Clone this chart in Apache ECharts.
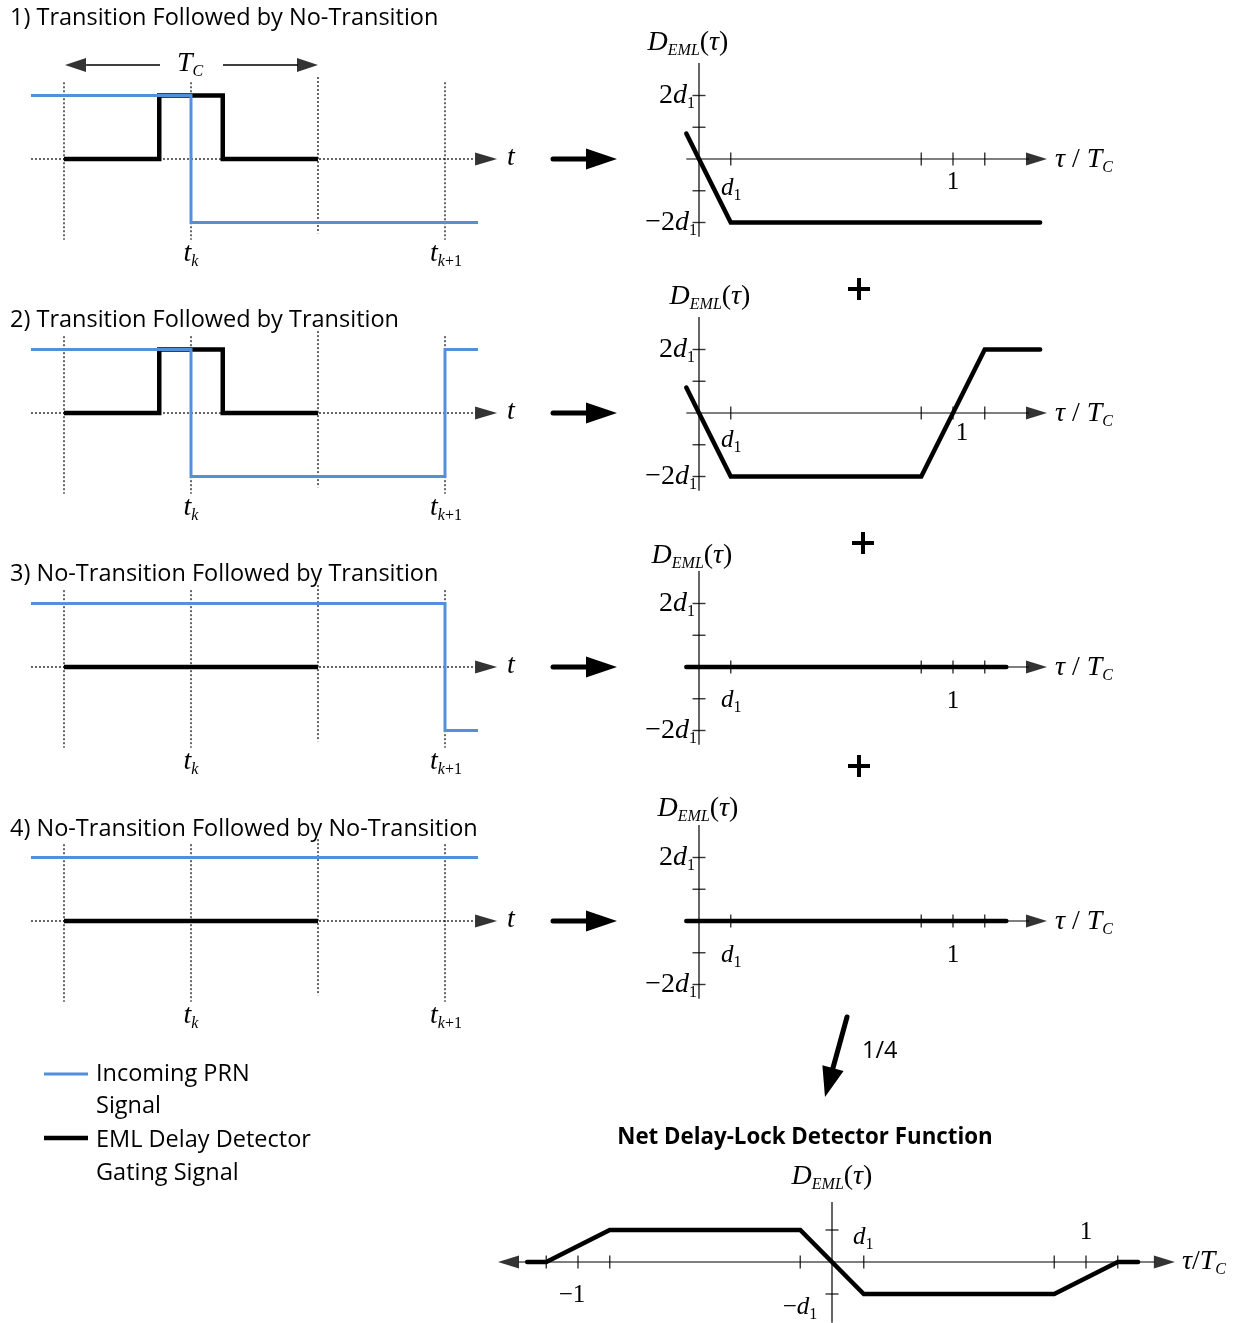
<!DOCTYPE html>
<html>
<head>
<meta charset="utf-8">
<script src="https://cdn.jsdelivr.net/npm/echarts@6/dist/echarts.min.js"></script>
<style>
    html, body { margin: 0; background: #fff; }
    #main { width: 1245px; height: 1323px; }
</style>
</head>
<body>
<div id="main"></div>
<script>
// 左侧时序图：横轴单位 Tc，t_k = 0，电平 ±1
const gateLines = [-0.5, 0, 0.5, 1]
const gateTop = [1.21, 1.21, 1.29, 1.21]
const gateBot = [-1.27, -1.27, -1.17, -1.27]
const baseT = [-0.63, 1.12]

const prn1T = [-0.63, 0, 0, 1.13]
const prn1V = [1, 1, -1, -1]
const prn2T = [-0.63, 0, 0, 1, 1, 1.13]
const prn2V = [1, 1, -1, -1, 1, 1]
const prn3T = [-0.63, 1, 1, 1.13]
const prn3V = [1, 1, -1, -1]
const prn4T = [-0.63, 1.13]
const prn4V = [1, 1]

const pulseT = [-0.5, -0.125, -0.125, 0.125, 0.125, 0.5]
const pulseV = [0, 0, 1, 1, 0, 0]
const flatT = [-0.5, 0.5]
const flatV = [0, 0]

// 右侧鉴别器输出：横轴 τ/Tc，纵轴单位 d1
const eml1Tau = [-0.05, 0, 0.125, 1.343]
const eml1Val = [0.8, 0, -2, -2]
const eml2Tau = [-0.05, 0, 0.125, 0.875, 1.125, 1.343]
const eml2Val = [0.8, 0, -2, -2, 2, 2]
const eml0Tau = [-0.05, 1.21]
const eml0Val = [0, 0]
const tauTicks = [0.125, 0.875, 1, 1.125]
const valTicks = [2, 1, -1, -2]

// 合成鉴别函数 (1/4)
const netTau = [-1.2, -1.125, -0.875, -0.125, 0.125, 0.875, 1.125, 1.205]
const netVal = [0, 0, 1, 1, -1, -1, 0, 0]
const netTauTicks = [-1.125, -1, -0.875, -0.125, 0.125, 0.875, 1, 1.125]
const netValTicks = [1, -1]

const titles = [
    '1) Transition Followed by No-Transition',
    '2) Transition Followed by Transition',
    '3) No-Transition Followed by Transition',
    '4) No-Transition Followed by No-Transition'
]

// 布局
const TC = 254
const rowY = [159, 413, 667, 921]
const titleY = [18, 320, 574, 829]
const LX0 = 191, RX0 = 699, NX0 = 832, NY0 = 1262
const LUY = 63.5, RUY = 31.75, NUY = 32
const BLUE = '#5390d9'
const SANS = 'Open Sans'
const SERIF = 'Liberation Serif'

const prnT = [prn1T, prn2T, prn3T, prn4T]
const prnV = [prn1V, prn2V, prn3V, prn4V]
const gT = [pulseT, pulseT, flatT, flatT]
const gV = [pulseV, pulseV, flatV, flatV]
const emlTau = [eml1Tau, eml2Tau, eml0Tau, eml0Tau]
const emlVal = [eml1Val, eml2Val, eml0Val, eml0Val]

const grid = [], xAxis = [], yAxis = [], series = [], graphic = []

function addGrid(x0, y0, xMin, xMax, yMin, yMax, uy) {
    grid.push({
        left: x0 + xMin * TC, top: y0 - yMax * uy,
        width: (xMax - xMin) * TC, height: (yMax - yMin) * uy,
        outerBoundsMode: 'none', containLabel: false
    })
    const i = grid.length - 1
    xAxis.push({ type: 'value', gridIndex: i, min: xMin, max: xMax, show: false })
    yAxis.push({ type: 'value', gridIndex: i, min: yMin, max: yMax, show: false })
    return { i, uy }
}

function addLine(g, xs, ys, color, width, dash, cap) {
    series.push({
        type: 'line', xAxisIndex: g.i, yAxisIndex: g.i,
        data: xs.map((x, k) => [x, ys[k]]),
        symbol: 'none', clip: false, silent: true,
        lineStyle: { color, width, type: dash || 'solid', cap: cap || 'butt', join: 'miter' }
    })
}

function addTicks(g, xs, ys, size) {
    series.push({
        type: 'scatter', xAxisIndex: g.i, yAxisIndex: g.i,
        data: xs.map((x, k) => [x, ys[k]]),
        symbol: 'rect', symbolSize: size, clip: false, silent: true,
        itemStyle: { color: '#000' }
    })
}

// 箭头：tip 为箭尖数据坐标，dir 为方向（度）
function addHead(g, tx, ty, dir, len, wid) {
    const r = dir * Math.PI / 180
    const cx = tx - Math.cos(r) * len / 2 / TC
    const cy = ty - Math.sin(r) * len / 2 / g.uy
    series.push({
        type: 'scatter', xAxisIndex: g.i, yAxisIndex: g.i,
        data: [[cx, cy]], symbol: 'triangle', symbolSize: [wid, len],
        symbolRotate: dir - 90, clip: false, silent: true,
        itemStyle: { color: '#000' }
    })
}

rowY.forEach((y0, r) => {
    // 左：时序
    const L = addGrid(LX0, y0, -0.75, 1.3, -2, 2, LUY)
    gateLines.forEach((t, k) => addLine(L, [t, t], [gateTop[k], gateBot[k]], '#000', 1.2, [2, 2]))
    addLine(L, baseT, [0, 0], '#000', 1.2, [2, 2])
    addHead(L, 1.205, 0, 0, 22, 13)
    addLine(L, gT[r], gV[r], '#000', 4.5)
    addLine(L, prnT[r], prnV[r], BLUE, 3)
    if (r === 0) {
        addLine(L, [-0.413, -0.122], [1.48, 1.48], '#000', 1.5)
        addLine(L, [0.126, 0.421], [1.48, 1.48], '#000', 1.5)
        addHead(L, -0.496, 1.48, 180, 21, 14)
        addHead(L, 0.5, 1.48, 0, 21, 14)
    }

    // 右：D_EML(τ)
    const R = addGrid(RX0, y0, -0.2, 1.55, -4, 4, RUY)
    addLine(R, [-0.05, 1.3], [0, 0], '#000', 1.2)
    addHead(R, 1.37, 0, 0, 21, 13)
    addLine(R, [0, 0], [3.02, -2.45], '#000', 1.2)
    addTicks(R, tauTicks, tauTicks.map(() => 0), [1.4, 13])
    addTicks(R, valTicks.map(() => 0), valTicks, [13, 1.4])
    addLine(R, emlTau[r], emlVal[r], '#000', 4.5, 'solid', 'round')
})

// 合成
const N = addGrid(NX0, NY0, -1.4, 1.4, -1.9, 2.2, NUY)
addLine(N, [-1.235, 1.27], [0, 0], '#000', 1.2)
addHead(N, -1.315, 0, 180, 21, 13)
addHead(N, 1.35, 0, 0, 21, 13)
addLine(N, [0, 0], [1.875, -1.9], '#000', 1.2)
addTicks(N, netTauTicks, netTauTicks.map(() => 0), [1.4, 13])
addTicks(N, netValTicks.map(() => 0), netValTicks, [13, 1.4])
addLine(N, netTau, netVal, '#000', 4.5, 'solid', 'round')

// ---- 文字与注释 ----
const richMath = {
    i: { fontFamily: SERIF, fontStyle: 'italic', fontSize: 28, lineHeight: 32, fill: '#000' },
    r: { fontFamily: SERIF, fontSize: 28, lineHeight: 32, fill: '#000' },
    li: { fontFamily: SERIF, fontStyle: 'italic', fontSize: 25, lineHeight: 32, fill: '#000' },
    lr: { fontFamily: SERIF, fontSize: 25, lineHeight: 32, fill: '#000' },
    s: { fontFamily: SERIF, fontStyle: 'italic', fontSize: 16, lineHeight: 15, verticalAlign: 'bottom', fill: '#000' },
    sr: { fontFamily: SERIF, fontSize: 16, lineHeight: 15, verticalAlign: 'bottom', fill: '#000' }
}

function mtext(x, y, text, align) {
    return {
        type: 'text', x, y, silent: true,
        style: { text, rich: richMath, align: align || 'center', verticalAlign: 'middle', fill: '#000' }
    }
}

function stext(x, y, text, size, weight, align) {
    return {
        type: 'text', x, y, silent: true,
        style: {
            text, fontFamily: SANS, fontSize: size, fontWeight: weight || 'normal',
            fill: '#000', align: align || 'left', verticalAlign: 'middle'
        }
    }
}

function bigArrow(x1, y1, x2, y2, lw, hl, hw) {
    const L = Math.hypot(x2 - x1, y2 - y1)
    const ux = (x2 - x1) / L, uy = (y2 - y1) / L
    const bx = x2 - ux * hl, by = y2 - uy * hl
    graphic.push({
        type: 'line', silent: true,
        shape: { x1, y1, x2: bx + ux * 2, y2: by + uy * 2 },
        style: { stroke: '#000', lineWidth: lw, lineCap: 'round' }
    })
    graphic.push({
        type: 'polygon', silent: true,
        shape: { points: [[x2, y2], [bx - uy * hw / 2, by + ux * hw / 2], [bx + uy * hw / 2, by - ux * hw / 2]] },
        style: { fill: '#000' }
    })
}

function plus(cx, cy) {
    graphic.push({ type: 'rect', silent: true, shape: { x: cx - 11, y: cy - 2, width: 22, height: 4 }, style: { fill: '#000' } })
    graphic.push({ type: 'rect', silent: true, shape: { x: cx - 2, y: cy - 11, width: 4, height: 22 }, style: { fill: '#000' } })
}

const dLabelX = [688, 710, 692, 698]
const dLabelY = [43, 297, 556, 809]
const oneX = [953, 962, 953, 953]
const oneDy = [23, 20, 34, 34]
const d1Dy = [29, 27, 33, 34]

rowY.forEach((y0, r) => {
    graphic.push(stext(10, titleY[r], titles[r], 23.5))
    // 左
    graphic.push(mtext(511, y0 - 1, '{i|t}'))
    graphic.push(mtext(LX0, y0 + 95, '{i|t}{s|k}'))
    graphic.push(mtext(LX0 + TC + 1, y0 + 95, '{i|t}{s|k}{sr|+1}'))
    // 箭头
    bigArrow(553, y0, 617, y0, 5, 31, 21)
    // 右
    graphic.push(mtext(dLabelX[r], dLabelY[r], '{i|D}{s|EML}{r|(}{i|τ}{r|)}'))
    graphic.push(mtext(695, y0 - 63, '{r|2}{i|d}{sr|1}', 'right'))
    graphic.push(mtext(697, y0 + 64, '{r|−2}{i|d}{sr|1}', 'right'))
    graphic.push(mtext(721, y0 + d1Dy[r], '{li|d}{sr|1}', 'left'))
    graphic.push(mtext(oneX[r], y0 + oneDy[r], '{lr|1}'))
    graphic.push(mtext(1055, y0 + 1, '{i|τ}{r| / }{i|T}{s|C}', 'left'))
})
graphic.push(mtext(190, 64, '{i|T}{s|C}'))

plus(859, 289)
plus(863, 543)
plus(859, 766)

bigArrow(847, 1017, 825, 1097, 5, 30, 22)
graphic.push(stext(862, 1051, '1/4', 23.5))
graphic.push(stext(805, 1138, 'Net Delay-Lock Detector Function', 22.3, 'bold', 'center'))

graphic.push(mtext(NX0, 1177, '{i|D}{s|EML}{r|(}{i|τ}{r|)}'))
graphic.push(mtext(853, 1237, '{li|d}{sr|1}', 'left'))
graphic.push(mtext(800, 1307, '{lr|−}{li|d}{sr|1}'))
graphic.push(mtext(572, 1295, '{lr|−1}'))
graphic.push(mtext(1086, 1232, '{lr|1}'))
graphic.push(mtext(1182, 1262, '{i|τ}{r|/}{i|T}{s|C}', 'left'))

// 图例
graphic.push({ type: 'line', silent: true, shape: { x1: 44, y1: 1074, x2: 88, y2: 1074 }, style: { stroke: BLUE, lineWidth: 3 } })
graphic.push({ type: 'line', silent: true, shape: { x1: 44, y1: 1138, x2: 88, y2: 1138 }, style: { stroke: '#000', lineWidth: 4.5 } })
graphic.push(stext(96, 1074, 'Incoming PRN', 23.5))
graphic.push(stext(96, 1106, 'Signal', 23.5))
graphic.push(stext(96, 1140, 'EML Delay Detector', 23.5))
graphic.push(stext(96, 1173, 'Gating Signal', 23.5))

const chart = echarts.init(document.getElementById('main'))
chart.setOption({
    animation: false,
    backgroundColor: '#fff',
    grid, xAxis, yAxis, series,
    graphic: { elements: graphic }
})
</script>
</body>
</html>
